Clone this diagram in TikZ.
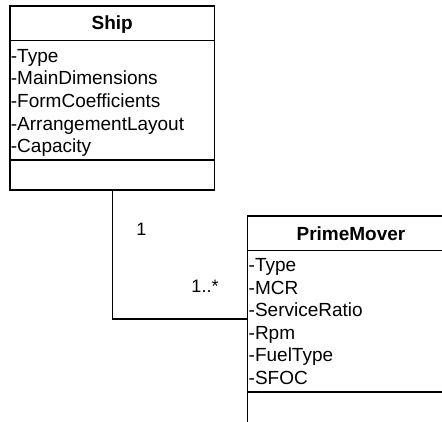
\documentclass[tikz,border=0pt]{standalone}
\usepackage{fontspec}
\setmainfont{Liberation Sans}
\begin{document}
\begin{tikzpicture}[x=1pt,y=-1pt,
  umlbox/.style={draw, line width=1.2pt, inner sep=0pt, outer sep=0pt, anchor=north west},
  sepline/.style={line width=1.2pt},
  assoc/.style={line width=1.2pt},
  attr/.style={anchor=base west, inner sep=0pt, font=\fontsize{19}{22.6}\selectfont},
  classname/.style={anchor=base, inner sep=0pt, font=\fontsize{19}{22.6}\selectfont\bfseries},
  mult/.style={anchor=base, inner sep=0pt, font=\fontsize{18}{21}\selectfont}]
\useasboundingbox (0,0) rectangle (442,421);
\clip (0,0) rectangle (442,421);

% Ship class
\node[umlbox, minimum width=204.3pt, minimum height=184pt] (ship) at (10,6) {};
\draw[sepline] (10,40.5) -- (214.3,40.5);
\draw[sepline] (10,160) -- (214.3,160);
\node[classname] (shipname) at (112.2,29.8) {Ship};
\node[attr] (s1) at (10.7,62.0) {-Type};
\node[attr] (s2) at (10.7,84.7) {-MainDimensions};
\node[attr] (s3) at (10.7,107.4) {-FormCoefficients};
\node[attr] (s4) at (10.7,130.1) {-ArrangementLayout};
\node[attr] (s5) at (10.7,152.8) {-Capacity};

% PrimeMover class (runs past the right and bottom edges)
\node[umlbox, minimum width=206pt, minimum height=206.5pt] (pm) at (247.8,216) {};
\draw[sepline] (247.8,250.7) -- (453.8,250.7);
\draw[sepline] (247.8,392) -- (453.8,392);
\node[classname] (pmname) at (351,240.2) {PrimeMover};
\node[attr] (p1) at (248.5,271.5) {-Type};
\node[attr] (p2) at (248.5,294.1) {-MCR};
\node[attr] (p3) at (248.5,316.7) {-ServiceRatio};
\node[attr] (p4) at (248.5,339.3) {-Rpm};
\node[attr] (p5) at (248.5,361.9) {-FuelType};
\node[attr] (p6) at (248.5,384.5) {-SFOC};

% association Ship 1 -- 1..* PrimeMover
\coordinate (shipend) at (112.7,190);
\coordinate (pmend) at (247.8,319);
\draw[assoc] (shipend) |- (pmend);
\node[mult] (m1) at (141.5,235.5) {1};
\node[mult] (m2) at (205,292.5) {1..*};
\end{tikzpicture}
\end{document}
